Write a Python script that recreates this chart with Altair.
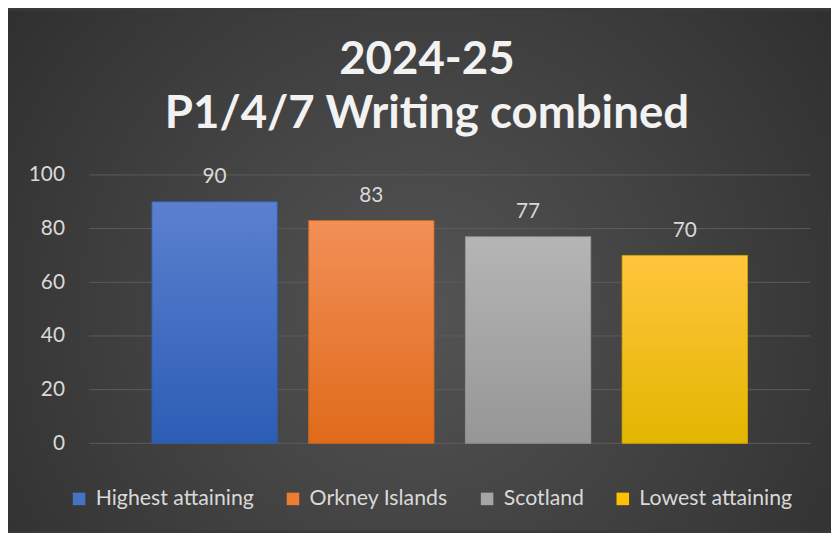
import altair as alt
import pandas as pd

categories = ["Highest attaining", "Orkney Islands", "Scotland", "Lowest attaining"]
values = [90, 83, 77, 70]
legend_colors = ["#4472c4", "#ed7d31", "#a5a5a5", "#ffc000"]
grad_tops = ["#5b80cf", "#f29058", "#b5b5b5", "#ffc53d"]
grad_bottoms = ["#2c5db5", "#e06a1a", "#969696", "#e3b600"]
strokes = ["#2f5aa8", "#c9631c", "#8c8c8c", "#c9a000"]
tick_values = [0, 20, 40, 60, 80, 100]
title_lines = ["2024-25", "P1/4/7 Writing combined"]

FONT = "Lato"
PLOT_W, PLOT_H = 728, 271
PAD = {"left": 82, "top": 166, "right": 21, "bottom": 88}

df = pd.DataFrame({"cat": categories, "value": values})
grid_df = pd.DataFrame({"v": tick_values})

x_enc = alt.X("cat:N", sort=categories, axis=None,
              scale=alt.Scale(paddingInner=0.2, paddingOuter=0.4))
y_scale = alt.Scale(domain=[0, 100], nice=False)

bg = alt.Chart(alt.Data(values=[{"a": 1}])).mark_rect(
    fill={"gradient": "radial", "x1": 0.5, "y1": 0.55, "r1": 0,
          "x2": 0.5, "y2": 0.55, "r2": 0.72,
          "stops": [{"offset": 0, "color": "#545454"},
                    {"offset": 1, "color": "#2a2a2a"}]}
).encode(
    x=alt.value(-PAD["left"]), x2=alt.value(PLOT_W + PAD["right"]),
    y=alt.value(-PAD["top"]), y2=alt.value(PLOT_H + PAD["bottom"])
)

grid = alt.Chart(grid_df).mark_rule(color="#5c5c5c", strokeWidth=1).encode(
    y=alt.Y("v:Q", scale=y_scale, title=None,
            axis=alt.Axis(values=tick_values, grid=False, domain=False, ticks=False,
                          labelColor="#d9d9d9", labelFontSize=21, labelFont=FONT,
                          labelPadding=25, zindex=1)),
    x=alt.value(0), x2=alt.value(PLOT_W)
)

base_bars = alt.Chart(df).mark_bar(opacity=1).encode(
    x=x_enc,
    y=alt.Y("value:Q", scale=y_scale, title=None),
    color=alt.Color("cat:N", sort=categories,
                    scale=alt.Scale(domain=categories, range=legend_colors),
                    legend=alt.Legend(orient="none", direction="horizontal",
                                      legendX=-21, legendY=316, title=None,
                                      symbolType="square", symbolSize=160,
                                      symbolStrokeWidth=0, labelColor="#d9d9d9",
                                      labelFont=FONT, labelFontSize=21.5,
                                      labelOffset=6, columnPadding=28, padding=0,
                                      zindex=1))
)

overlays = []
for c, t, b, s in zip(categories, grad_tops, grad_bottoms, strokes):
    overlays.append(
        alt.Chart(df).transform_filter(alt.datum.cat == c).mark_bar(
            fill={"gradient": "linear", "x1": 0, "y1": 0, "x2": 0, "y2": 1,
                  "stops": [{"offset": 0, "color": t}, {"offset": 1, "color": b}]},
            stroke=s, strokeWidth=0.8, opacity=1
        ).encode(x=x_enc, y=alt.Y("value:Q", scale=y_scale, title=None))
    )

labels = alt.Chart(df).mark_text(
    font=FONT, fontSize=21, color="#d9d9d9", baseline="middle", dy=-25
).encode(x=x_enc, y=alt.Y("value:Q", scale=y_scale, title=None), text="value:Q")

chart = alt.layer(bg, grid, base_bars, *overlays, labels).properties(
    width=PLOT_W, height=PLOT_H,
    autosize=alt.AutoSizeParams(type="none"),
    padding=PAD,
    background="#3a3a3a",
    title=alt.TitleParams(text=title_lines, font=FONT, fontSize=46, fontWeight="bold",
                          color="#f2f2f2", anchor="middle", frame="group", dx=-23,
                          offset=-129, lineHeight=55, zindex=1)
).configure_view(stroke=None)

chart.save("out.html", embed_options={"renderer": "svg", "actions": False})
